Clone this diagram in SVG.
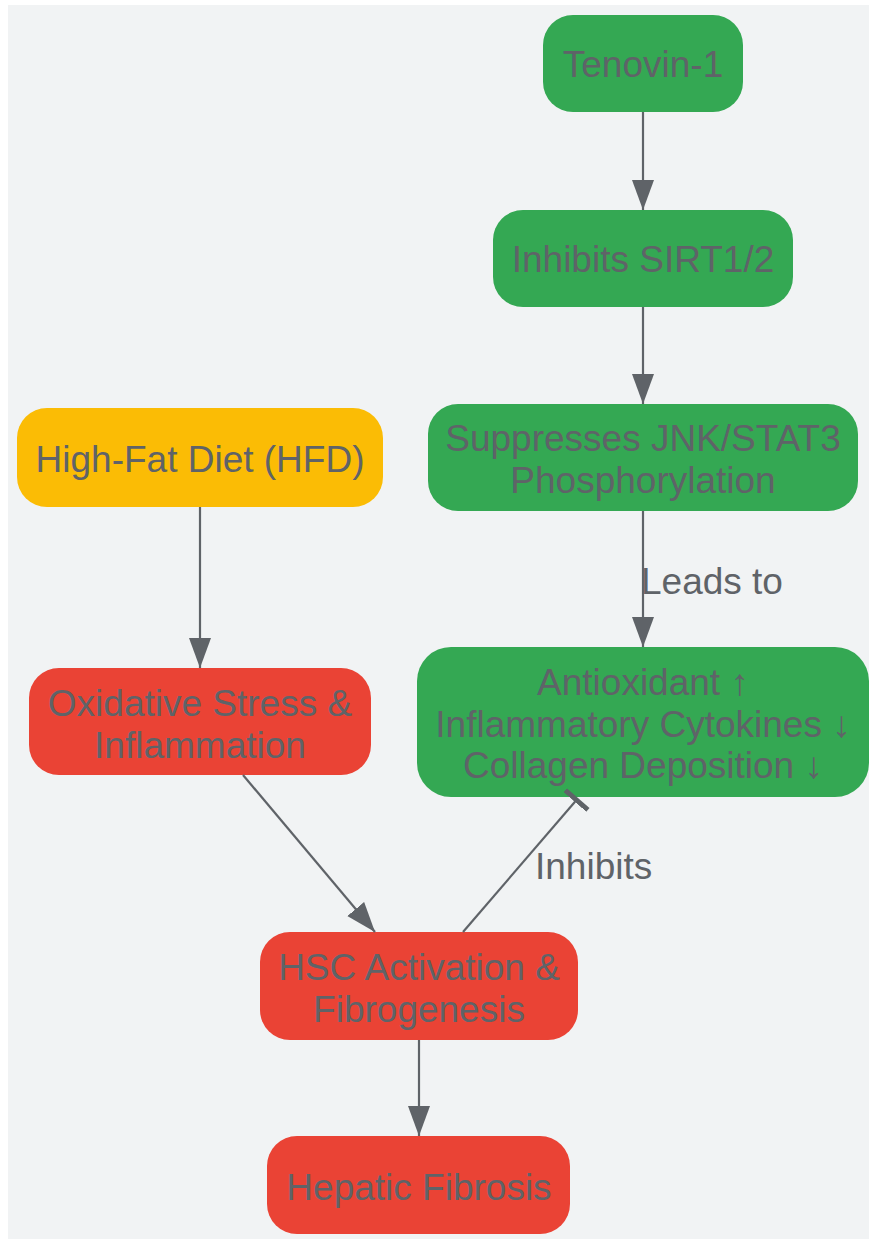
<svg xmlns="http://www.w3.org/2000/svg" width="869" height="1239" viewBox="0 0 869 1239">
<style>
.bg{fill:#f1f3f4}
.g{fill:#34a853}
.y{fill:#fbbc05}
.r{fill:#ea4335}
text{font-family:"Liberation Sans",Arial,Helvetica,sans-serif;font-size:37px;fill:#5f6368}
.t{text-anchor:middle}
.e{stroke:#5f6368;stroke-width:2.2;fill:none}
</style>
<defs>
<marker id="arr" markerUnits="userSpaceOnUse" markerWidth="32" markerHeight="24" refX="30" refY="11" orient="auto" viewBox="0 0 32 24">
<path d="M0,0 L30,11 L0,22 z" fill="#5f6368"/>
</marker>
<marker id="tee" markerUnits="userSpaceOnUse" markerWidth="8" markerHeight="32" refX="2.5" refY="15" orient="auto" viewBox="0 0 8 32">
<rect x="0" y="0" width="5" height="30" fill="#5f6368"/>
</marker>
</defs>
<rect class="bg" x="8" y="5" width="861" height="1234"/>
<g id="tenovin">
<rect class="g" x="543" y="15" width="200" height="97" rx="30"/>
<text class="t" x="643" y="77">Tenovin-1</text>
</g>
<g id="sirt">
<rect class="g" x="493" y="210" width="300" height="97" rx="30"/>
<text class="t" x="643" y="272">Inhibits SIRT1/2</text>
</g>
<g id="jnk">
<rect class="g" x="428" y="404" width="430" height="107" rx="30"/>
<text class="t" x="643" y="451">Suppresses JNK/STAT3</text>
<text class="t" x="643" y="493">Phosphorylation</text>
</g>
<g id="antioxidant">
<rect class="g" x="417" y="647" width="452" height="150" rx="34"/>
<text class="t" x="643" y="695">Antioxidant ↑</text>
<text class="t" x="643" y="737">Inflammatory Cytokines ↓</text>
<text class="t" x="643" y="778">Collagen Deposition ↓</text>
</g>
<g id="hfd">
<rect class="y" x="17" y="408" width="366" height="99" rx="30"/>
<text class="t" x="200" y="472">High-Fat Diet (HFD)</text>
</g>
<g id="oxidative">
<rect class="r" x="29" y="668" width="342" height="107" rx="30"/>
<text class="t" x="200" y="716">Oxidative Stress &amp;</text>
<text class="t" x="200" y="758">Inflammation</text>
</g>
<g id="hsc">
<rect class="r" x="260" y="932" width="318" height="108" rx="30"/>
<text class="t" x="419" y="980">HSC Activation &amp;</text>
<text class="t" x="419" y="1022">Fibrogenesis</text>
</g>
<g id="hepatic">
<rect class="r" x="267" y="1136" width="303" height="98" rx="30"/>
<text class="t" x="419" y="1200">Hepatic Fibrosis</text>
</g>
<g id="connectors">
<line class="e" x1="643" y1="112" x2="643" y2="210" marker-end="url(#arr)"/>
<line class="e" x1="643" y1="307" x2="643" y2="404" marker-end="url(#arr)"/>
<line class="e" x1="643" y1="511" x2="643" y2="647" marker-end="url(#arr)"/>
<text x="641" y="594">Leads to</text>
<line class="e" x1="200" y1="507" x2="200" y2="668" marker-end="url(#arr)"/>
<line class="e" x1="243" y1="775" x2="375" y2="932" marker-end="url(#arr)"/>
<line class="e" x1="463" y1="932" x2="576.5" y2="800" marker-end="url(#tee)"/>
<text x="535" y="879">Inhibits</text>
<line class="e" x1="419" y1="1040" x2="419" y2="1136" marker-end="url(#arr)"/>
</g>
</svg>
